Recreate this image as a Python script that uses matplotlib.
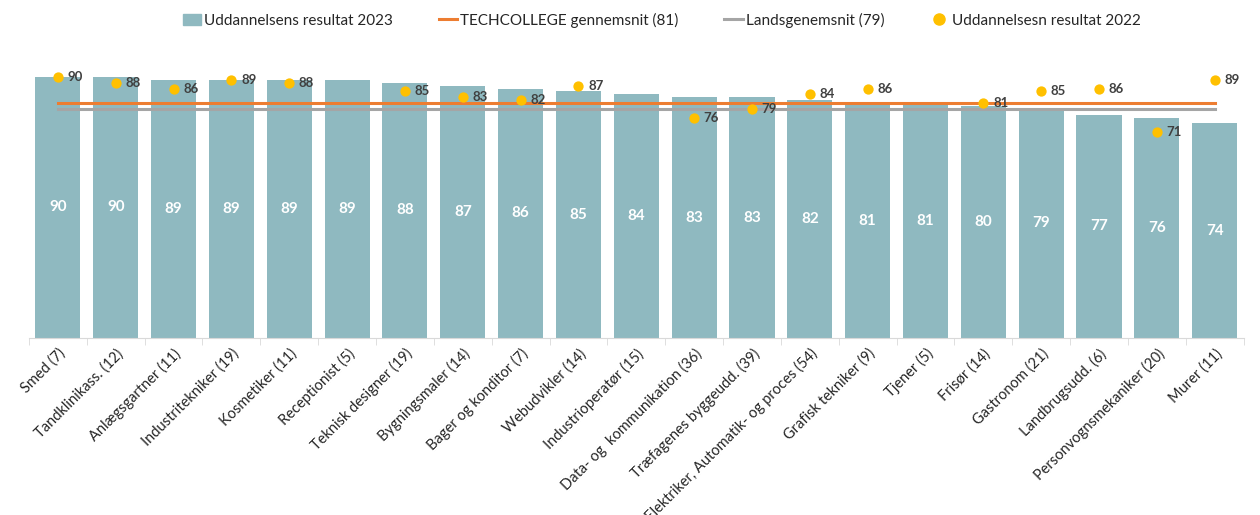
import numpy as np
import matplotlib.pyplot as plt
from matplotlib.patches import Patch
from matplotlib.lines import Line2D

plt.rcParams['font.family'] = ['Lato', 'DejaVu Sans']

categories = ["Smed (7)", "Tandklinikass. (12)", "Anlægsgartner (11)", "Industritekniker (19)",
              "Kosmetiker (11)", "Receptionist (5)", "Teknisk designer (19)", "Bygningsmaler (14)",
              "Bager og konditor (7)", "Webudvikler (14)", "Industrioperatør (15)",
              "Data- og  kommunikation (36)", "Træfagenes byggeudd. (39)",
              "Elektriker, Automatik- og proces (54)", "Grafisk tekniker (9)", "Tjener (5)",
              "Frisør (14)", "Gastronom (21)", "Landbrugsudd. (6)", "Personvognsmekaniker (20)",
              "Murer (11)"]
result_2023 = [90, 90, 89, 89, 89, 89, 88, 87, 86, 85, 84, 83, 83, 82, 81, 81, 80, 79, 77, 76, 74]
result_2022 = [90, 88, 86, 89, 88, None, 85, 83, 82, 87, None, 76, 79, 84, 86, None, 81, 85, 86, 71, 89]
techcollege_avg = 81
national_avg = 79

bar_color = "#8FB9C0"
orange = "#ED7D31"
grey = "#A5A5A5"
yellow = "#FFC000"

x = np.arange(len(categories))

fig = plt.figure(figsize=(12.6, 5.15), dpi=100)
ax = fig.add_axes([0.023, 0.3437, 0.964, 0.5633])

ax.bar(x, result_2023, width=0.78, color=bar_color, zorder=1)
# labels sit in the middle of each bar
for xi, v in zip(x, result_2023):
    ax.text(xi, v / 2, str(v), ha="center", va="center", color="white",
            fontsize=11, fontweight="bold", zorder=5)

ax.plot([x[0], x[-1]], [techcollege_avg] * 2, color=orange, lw=2.2, zorder=3)
ax.plot([x[0], x[-1]], [national_avg] * 2, color=grey, lw=2.2, zorder=2)

dx = [xi for xi, v in zip(x, result_2022) if v is not None]
dv = [v for v in result_2022 if v is not None]
ax.scatter(dx, dv, s=55, color=yellow, zorder=4, linewidths=0)
for xi, v in zip(dx, dv):
    ax.annotate(str(v), (xi, v), xytext=(7, 0), textcoords="offset points",
                ha="left", va="center", fontsize=9.5, fontweight="bold", color="#404040", zorder=5)

ax.set_xlim(-0.5, len(categories) - 0.5)
ax.set_ylim(0, 100)
ax.set_yticks([])
for s in ["top", "left", "right"]:
    ax.spines[s].set_visible(False)
ax.spines["bottom"].set_color("#D9D9D9")
ax.set_xticks(x)
ax.set_xticklabels(categories, rotation=45, ha="right", rotation_mode="anchor",
                   fontsize=10.5, color="#262626")
ax.tick_params(axis="x", length=0, pad=6)
ax.set_xticks(np.arange(-0.5, len(categories)), minor=True)
ax.tick_params(axis="x", which="minor", length=5, color="#D9D9D9")

handles = [Patch(color=bar_color),
           Line2D([], [], color=orange, lw=2.2),
           Line2D([], [], color=grey, lw=2.2),
           Line2D([], [], marker="o", ls="", color=yellow, markersize=8)]
labels = ["Uddannelsens resultat 2023", f"TECHCOLLEGE gennemsnit ({techcollege_avg})",
          f"Landsgenemsnit ({national_avg})", "Uddannelsesn resultat 2022"]
fig.legend(handles, labels, loc="center", bbox_to_anchor=(0.525, 0.961), ncol=4,
           frameon=False, fontsize=11, handlelength=1.2, handletextpad=0.2,
           columnspacing=3.0, labelcolor="#262626")

fig.savefig("out.png", dpi=100)
